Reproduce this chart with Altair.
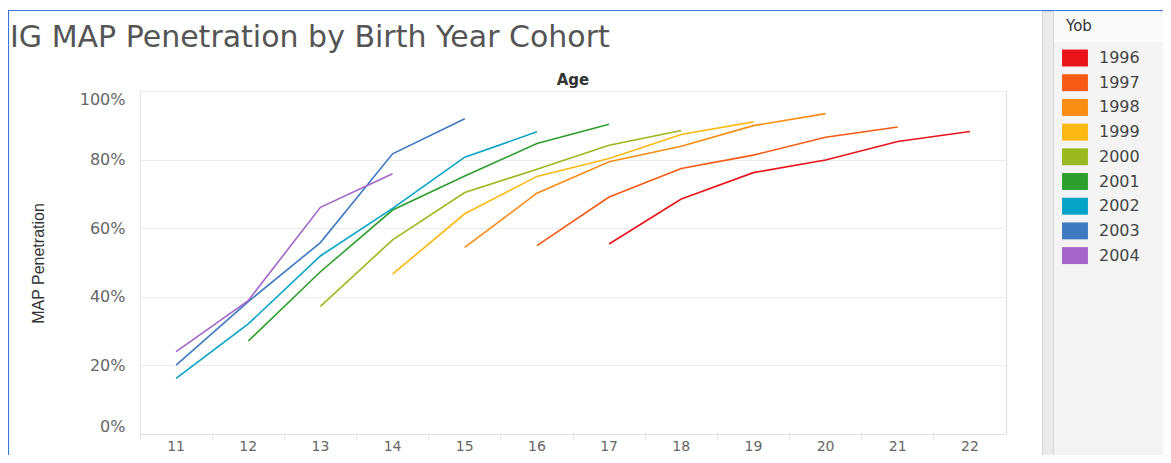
import altair as alt
import pandas as pd

# ---- data ----
cohorts = ["1996", "1997", "1998", "1999", "2000", "2001", "2002", "2003", "2004"]
colors = ["#e8141a", "#f65a14", "#f98c12", "#fdb913", "#9bb81e",
          "#2e9e2d", "#07a3c7", "#3f79c0", "#a366c8"]
age_ticks = [11, 12, 13, 14, 15, 16, 17, 18, 19, 20, 21, 22]

ages_1996 = [17, 18, 19, 20, 21, 22]
pen_1996 = [0.554, 0.685, 0.762, 0.799, 0.853, 0.882]
ages_1997 = [16, 17, 18, 19, 20, 21]
pen_1997 = [0.549, 0.691, 0.774, 0.813, 0.865, 0.895]
ages_1998 = [15, 16, 17, 18, 19, 20]
pen_1998 = [0.544, 0.702, 0.794, 0.839, 0.899, 0.934]
ages_1999 = [14, 15, 16, 17, 18, 19]
pen_1999 = [0.466, 0.642, 0.751, 0.803, 0.873, 0.910]
ages_2000 = [13, 14, 15, 16, 17, 18]
pen_2000 = [0.372, 0.566, 0.704, 0.772, 0.842, 0.885]
ages_2001 = [12, 13, 14, 15, 16, 17]
pen_2001 = [0.271, 0.473, 0.653, 0.752, 0.847, 0.903]
ages_2002 = [11, 12, 13, 14, 15, 16]
pen_2002 = [0.162, 0.321, 0.519, 0.658, 0.807, 0.881]
ages_2003 = [11, 12, 13, 14, 15]
pen_2003 = [0.201, 0.386, 0.558, 0.817, 0.919]
ages_2004 = [11, 12, 13, 14]
pen_2004 = [0.240, 0.389, 0.661, 0.759]

series = {
    "1996": (ages_1996, pen_1996),
    "1997": (ages_1997, pen_1997),
    "1998": (ages_1998, pen_1998),
    "1999": (ages_1999, pen_1999),
    "2000": (ages_2000, pen_2000),
    "2001": (ages_2001, pen_2001),
    "2002": (ages_2002, pen_2002),
    "2003": (ages_2003, pen_2003),
    "2004": (ages_2004, pen_2004),
}

rows = []
for yob, (ages, vals) in series.items():
    for a, v in zip(ages, vals):
        rows.append({"Yob": yob, "Age": a, "MAP Penetration": v})
df = pd.DataFrame(rows)

W, H = 866, 343
LABEL_FONT = "DejaVu Sans"

x_enc = alt.X(
    "Age:O",
    scale=alt.Scale(type="band", domain=age_ticks, paddingInner=0, paddingOuter=0),
    axis=alt.Axis(
        title=None, labelAngle=0, labelFont=LABEL_FONT, labelFontSize=14,
        labelColor="#666666", labelPadding=0, labelBaseline="top",
        bandPosition=0, tickSize=5,
        tickColor="#e2e2e2", domainColor="#e2e2e2", grid=False,
    ),
)
y_enc = alt.Y(
    "MAP Penetration:Q",
    scale=alt.Scale(domain=[0, 1], nice=False, zero=True),
    axis=alt.Axis(
        title="MAP Penetration", format=".0%", values=[0, 0.2, 0.4, 0.6, 0.8, 1.0],
        labelFont=LABEL_FONT, labelFontSize=16, labelColor="#666666",
        labelPadding=15, ticks=False, labelFlush=True,
        domainColor="#e6e6e6", gridColor="#ececec",
        titleFont="Liberation Sans", titleFontSize=16, titleFontWeight="normal",
        titleColor="#333333", titleX=-102, titleY=172, titleAngle=270,
        titleAlign="center", titleBaseline="middle",
    ),
)
color_scale = alt.Scale(domain=cohorts, range=colors)

legend_layer = alt.Chart(df).mark_square(size=0, opacity=1, filled=True).encode(
    x=x_enc, y=y_enc,
    color=alt.Color(
        "Yob:N", scale=color_scale,
        legend=alt.Legend(
            orient="none", legendX=926, legendY=-72, padding=0,
            title="Yob", titleFont=LABEL_FONT, titleFontSize=15,
            titleFontWeight="normal", titleColor="#333333", titlePadding=15,
            labelFont=LABEL_FONT, labelFontSize=16, labelColor="#444444",
            labelOffset=15,
            symbolType="M-1.44,-0.94H1.44V0.94H-1.44Z", symbolSize=324,
            symbolStrokeWidth=0, symbolOpacity=1, rowPadding=6.7,
        ),
    ),
)

lines = alt.Chart(df).mark_line(strokeWidth=1.6).encode(
    x=x_enc, y=y_enc,
    color=alt.Color("Yob:N", scale=color_scale),
    order="Age:O",
)

# decorative frame / panels (dashboard look)
frame = alt.Chart(pd.DataFrame({"k": [0]})).mark_rect(
    fill=None, stroke="#3c78d8", strokeWidth=1.2
).encode(x=alt.value(-131.5), x2=alt.value(1040), y=alt.value(-80.5), y2=alt.value(420))

strip = alt.Chart(pd.DataFrame({"k": [0]})).mark_rect(
    fill="#ebebeb", stroke="#d4d4d4", strokeWidth=1
).encode(x=alt.value(902.5), x2=alt.value(913.5), y=alt.value(-79.5), y2=alt.value(420))

panel = alt.Chart(pd.DataFrame({"k": [0]})).mark_rect(
    fill="#f4f4f4"
).encode(x=alt.value(914), x2=alt.value(1027), y=alt.value(-79.5), y2=alt.value(420))

panel_head = alt.Chart(pd.DataFrame({"k": [0]})).mark_rect(
    fill="#fafafa"
).encode(x=alt.value(914), x2=alt.value(1027), y=alt.value(-79.5), y2=alt.value(-49))

title = alt.Chart(pd.DataFrame({"t": ["IG MAP Penetration by Birth Year Cohort"]})).mark_text(
    font=LABEL_FONT, fontSize=30, color="#555555", align="left", baseline="alphabetic"
).encode(text="t:N", x=alt.value(-130), y=alt.value(-44))

age_header = alt.Chart(pd.DataFrame({"t": ["Age"]})).mark_text(
    font=LABEL_FONT, fontSize=15, fontWeight="bold", color="#333333",
    align="center", baseline="middle"
).encode(text="t:N", x=alt.value(W / 2), y=alt.value(-11))

chart = alt.layer(
    frame, strip, panel, panel_head, legend_layer, lines, title, age_header
).properties(
    width=W, height=H,
    autosize=alt.AutoSizeParams(type="none"),
    padding={"left": 132, "top": 83, "right": 157, "bottom": 21},
).configure_view(stroke=None).configure(background="white")

chart.save("out.html", embed_options={"renderer": "svg", "actions": False})
